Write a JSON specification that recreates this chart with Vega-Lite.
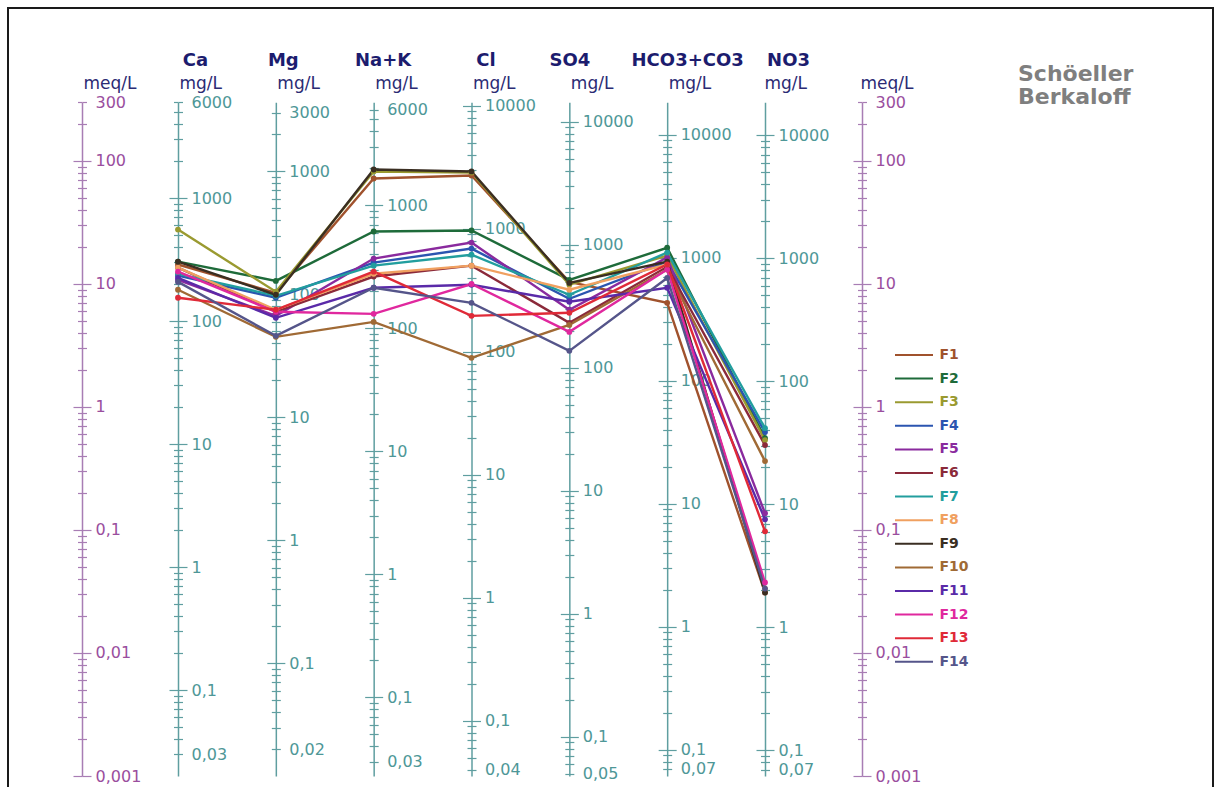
{
  "$schema": "https://vega.github.io/schema/vega-lite/v6.json",
  "width": 1205,
  "height": 780,
  "autosize": {"type": "none"},
  "padding": {"left": 8, "top": 8, "right": 8, "bottom": 0},
  "background": "white",
  "title": {"text": ["Schöeller", "Berkaloff"], "anchor": "start", "frame": "group", "orient": "top", "offset": 0, "dx": 1010, "dy": 101, "font": "DejaVu Sans", "fontSize": 22, "fontWeight": "bold", "color": "#7f7f7f", "lineHeight": 23},
  "config": {
    "view": {"stroke": "#1a1a1a", "strokeWidth": 2},
    "axis": {"grid": false, "labelOverlap": false, "labelBound": false, "labelFlush": false, "labelFont": "DejaVu Sans", "labelFontSize": 16, "labelBaseline": "middle", "tickWidth": 1.2, "domainWidth": 1.5, "titleAngle": 0, "titleBaseline": "alphabetic", "titlePadding": 0, "titleFont": "DejaVu Sans", "titleFontSize": 17, "titleFontWeight": "normal", "titleColor": "#2b2b74"}
  },
  "data": {"values": [
    {"s":"F1","ion":"Ca","meq":14.4},{"s":"F1","ion":"Mg","meq":8.48},{"s":"F1","ion":"Na+K","meq":72.1},{"s":"F1","ion":"Cl","meq":76.2},{"s":"F1","ion":"SO4","meq":10.4},{"s":"F1","ion":"HCO3+CO3","meq":7.03},{"s":"F1","ion":"NO3","meq":0.031},
    {"s":"F2","ion":"Ca","meq":15.2},{"s":"F2","ion":"Mg","meq":10.6},{"s":"F2","ion":"Na+K","meq":26.7},{"s":"F2","ion":"Cl","meq":27.2},{"s":"F2","ion":"SO4","meq":10.8},{"s":"F2","ion":"HCO3+CO3","meq":19.7},{"s":"F2","ion":"NO3","meq":0.558},
    {"s":"F3","ion":"Ca","meq":27.7},{"s":"F3","ion":"Mg","meq":8.65},{"s":"F3","ion":"Na+K","meq":82.2},{"s":"F3","ion":"Cl","meq":80.6},{"s":"F3","ion":"SO4","meq":9.86},{"s":"F3","ion":"HCO3+CO3","meq":17.0},{"s":"F3","ion":"NO3","meq":0.538},
    {"s":"F4","ion":"Ca","meq":11.7},{"s":"F4","ion":"Mg","meq":7.73},{"s":"F4","ion":"Na+K","meq":14.9},{"s":"F4","ion":"Cl","meq":19.4},{"s":"F4","ion":"SO4","meq":7.58},{"s":"F4","ion":"HCO3+CO3","meq":15.2},{"s":"F4","ion":"NO3","meq":0.625},
    {"s":"F5","ion":"Ca","meq":10.8},{"s":"F5","ion":"Mg","meq":5.51},{"s":"F5","ion":"Na+K","meq":16.1},{"s":"F5","ion":"Cl","meq":21.7},{"s":"F5","ion":"SO4","meq":6.17},{"s":"F5","ion":"HCO3+CO3","meq":16.4},{"s":"F5","ion":"NO3","meq":0.137},
    {"s":"F6","ion":"Ca","meq":13.6},{"s":"F6","ion":"Mg","meq":5.94},{"s":"F6","ion":"Na+K","meq":11.5},{"s":"F6","ion":"Cl","meq":14.1},{"s":"F6","ion":"SO4","meq":4.83},{"s":"F6","ion":"HCO3+CO3","meq":13.8},{"s":"F6","ion":"NO3","meq":0.49},
    {"s":"F7","ion":"Ca","meq":12.1},{"s":"F7","ion":"Mg","meq":8.02},{"s":"F7","ion":"Na+K","meq":14.1},{"s":"F7","ion":"Cl","meq":17.3},{"s":"F7","ion":"SO4","meq":8.17},{"s":"F7","ion":"HCO3+CO3","meq":18.0},{"s":"F7","ion":"NO3","meq":0.673},
    {"s":"F8","ion":"Ca","meq":13.6},{"s":"F8","ion":"Mg","meq":6.17},{"s":"F8","ion":"Na+K","meq":12.1},{"s":"F8","ion":"Cl","meq":14.1},{"s":"F8","ion":"SO4","meq":8.98},{"s":"F8","ion":"HCO3+CO3","meq":14.4},{"s":"F8","ion":"NO3","meq":0.0334},
    {"s":"F9","ion":"Ca","meq":15.2},{"s":"F9","ion":"Mg","meq":8.17},{"s":"F9","ion":"Na+K","meq":85.3},{"s":"F9","ion":"Cl","meq":82.2},{"s":"F9","ion":"SO4","meq":10.2},{"s":"F9","ion":"HCO3+CO3","meq":15.2},{"s":"F9","ion":"NO3","meq":0.031},
    {"s":"F10","ion":"Ca","meq":8.98},{"s":"F10","ion":"Mg","meq":3.72},{"s":"F10","ion":"Na+K","meq":4.92},{"s":"F10","ion":"Cl","meq":2.51},{"s":"F10","ion":"SO4","meq":4.65},{"s":"F10","ion":"HCO3+CO3","meq":13.1},{"s":"F10","ion":"NO3","meq":0.363},
    {"s":"F11","ion":"Ca","meq":11.2},{"s":"F11","ion":"Mg","meq":5.31},{"s":"F11","ion":"Na+K","meq":9.32},{"s":"F11","ion":"Cl","meq":9.86},{"s":"F11","ion":"SO4","meq":7.17},{"s":"F11","ion":"HCO3+CO3","meq":9.32},{"s":"F11","ion":"NO3","meq":0.122},
    {"s":"F12","ion":"Ca","meq":12.6},{"s":"F12","ion":"Mg","meq":5.94},{"s":"F12","ion":"Na+K","meq":5.72},{"s":"F12","ion":"Cl","meq":10.0},{"s":"F12","ion":"SO4","meq":4.08},{"s":"F12","ion":"HCO3+CO3","meq":13.1},{"s":"F12","ion":"NO3","meq":0.0374},
    {"s":"F13","ion":"Ca","meq":7.73},{"s":"F13","ion":"Mg","meq":6.17},{"s":"F13","ion":"Na+K","meq":12.6},{"s":"F13","ion":"Cl","meq":5.51},{"s":"F13","ion":"SO4","meq":5.83},{"s":"F13","ion":"HCO3+CO3","meq":14.4},{"s":"F13","ion":"NO3","meq":0.0975},
    {"s":"F14","ion":"Ca","meq":10.4},{"s":"F14","ion":"Mg","meq":3.79},{"s":"F14","ion":"Na+K","meq":9.32},{"s":"F14","ion":"Cl","meq":7.03},{"s":"F14","ion":"SO4","meq":2.86},{"s":"F14","ion":"HCO3+CO3","meq":11.2},{"s":"F14","ion":"NO3","meq":0.0334}
  ]},
  "resolve": {"scale": {"y": "independent"}, "axis": {"y": "independent"}},
  "layer": [
    {"data": {"values": [{}]}, "mark": {"type": "point", "opacity": 0},
     "encoding": {"y": {"datum": 1, "type": "quantitative", "scale": {"type": "log", "domain": [0.001, 300], "range": [768, 94.3]},
       "axis": {"orient": "right", "offset": -1131, "values": [0.001,0.002,0.003,0.004,0.005,0.006,0.007,0.008,0.009,0.01,0.02,0.03,0.04,0.05,0.06,0.07,0.08,0.09,0.1,0.2,0.3,0.4,0.5,0.6,0.7,0.8,0.9,1,2,3,4,5,6,7,8,9,10,20,30,40,50,60,70,80,90,100,200,300],
         "labelExpr": "(datum.value == 300 || abs(log(datum.value)/LN10 - round(log(datum.value)/LN10)) < 0.001) ? replace(datum.value + '', '.', ',') : ''",
         "tickSize": {"condition": {"test": "abs(log(datum.value)/LN10 - round(log(datum.value)/LN10)) < 0.001", "value": 9}, "value": 4.5},
         "labelPadding": {"condition": {"test": "abs(log(datum.value)/LN10 - round(log(datum.value)/LN10)) < 0.001", "value": 4}, "value": 8.5},
         "domainColor": "#a87db4", "tickColor": "#a87db4", "labelColor": "#9a4e9e",
         "title": "meq/L", "titleX": 1, "titleY": 80, "titleAlign": "left"}}}},
    {"data": {"values": [{}]}, "mark": {"type": "point", "opacity": 0},
     "encoding": {"y": {"datum": 1, "type": "quantitative", "scale": {"type": "log", "domain": [0.001, 300], "range": [768, 94.3]},
       "axis": {"orient": "left", "offset": -74, "values": [0.001,0.002,0.003,0.004,0.005,0.006,0.007,0.008,0.009,0.01,0.02,0.03,0.04,0.05,0.06,0.07,0.08,0.09,0.1,0.2,0.3,0.4,0.5,0.6,0.7,0.8,0.9,1,2,3,4,5,6,7,8,9,10,20,30,40,50,60,70,80,90,100,200,300],
         "labels": false, "domain": false, "title": null,
         "tickSize": {"condition": {"test": "abs(log(datum.value)/LN10 - round(log(datum.value)/LN10)) < 0.001", "value": 9}, "value": 4.5},
         "tickColor": "#a87db4"}}}},
    {"data": {"values": [{}]}, "mark": {"type": "point", "opacity": 0},
     "encoding": {"y": {"datum": 1, "type": "quantitative", "scale": {"type": "log", "domain": [0.001, 300], "range": [768, 94.3]},
       "axis": {"orient": "right", "offset": -351, "values": [0.001,0.002,0.003,0.004,0.005,0.006,0.007,0.008,0.009,0.01,0.02,0.03,0.04,0.05,0.06,0.07,0.08,0.09,0.1,0.2,0.3,0.4,0.5,0.6,0.7,0.8,0.9,1,2,3,4,5,6,7,8,9,10,20,30,40,50,60,70,80,90,100,200,300],
         "labelExpr": "(datum.value == 300 || abs(log(datum.value)/LN10 - round(log(datum.value)/LN10)) < 0.001) ? replace(datum.value + '', '.', ',') : ''",
         "tickSize": {"condition": {"test": "abs(log(datum.value)/LN10 - round(log(datum.value)/LN10)) < 0.001", "value": 9}, "value": 4.5},
         "labelPadding": {"condition": {"test": "abs(log(datum.value)/LN10 - round(log(datum.value)/LN10)) < 0.001", "value": 4}, "value": 8.5},
         "domainColor": "#a87db4", "tickColor": "#a87db4", "labelColor": "#9a4e9e",
         "title": "meq/L", "titleX": -2, "titleY": 80, "titleAlign": "left"}}}},
    {"data": {"values": [{}]}, "mark": {"type": "point", "opacity": 0},
     "encoding": {"y": {"datum": 1, "type": "quantitative", "scale": {"type": "log", "domain": [0.001, 300], "range": [768, 94.3]},
       "axis": {"orient": "left", "offset": -854, "values": [0.001,0.002,0.003,0.004,0.005,0.006,0.007,0.008,0.009,0.01,0.02,0.03,0.04,0.05,0.06,0.07,0.08,0.09,0.1,0.2,0.3,0.4,0.5,0.6,0.7,0.8,0.9,1,2,3,4,5,6,7,8,9,10,20,30,40,50,60,70,80,90,100,200,300],
         "labels": false, "domain": false, "title": null,
         "tickSize": {"condition": {"test": "abs(log(datum.value)/LN10 - round(log(datum.value)/LN10)) < 0.001", "value": 9}, "value": 4.5},
         "tickColor": "#a87db4"}}}},
    {"data": {"values": [{}]}, "mark": {"type": "point", "opacity": 0},
     "encoding": {"y": {"datum": 1, "type": "quantitative", "scale": {"type": "log", "domain": [0.02004, 6012], "range": [768, 94.3]},
       "axis": {"orient": "right", "offset": -1035, "values": [0.03,0.04,0.05,0.06,0.07,0.08,0.09,0.1,0.2,0.3,0.4,0.5,0.6,0.7,0.8,0.9,1,2,3,4,5,6,7,8,9,10,20,30,40,50,60,70,80,90,100,200,300,400,500,600,700,800,900,1000,2000,3000,4000,5000,6000],
         "labelExpr": "(datum.value == 6000 || datum.value == 0.03 || abs(log(datum.value)/LN10 - round(log(datum.value)/LN10)) < 0.001) ? replace(datum.value + '', '.', ',') : ''",
         "tickSize": {"condition": {"test": "abs(log(datum.value)/LN10 - round(log(datum.value)/LN10)) < 0.001", "value": 9}, "value": 4.5},
         "labelPadding": {"condition": {"test": "abs(log(datum.value)/LN10 - round(log(datum.value)/LN10)) < 0.001", "value": 4}, "value": 8.5},
         "domainColor": "#5f9ea0", "tickColor": "#5f9ea0", "labelColor": "#4e9797",
         "title": "mg/L", "titleX": 1, "titleY": 80, "titleAlign": "left"}}}},
    {"data": {"values": [{}]}, "mark": {"type": "point", "opacity": 0},
     "encoding": {"y": {"datum": 1, "type": "quantitative", "scale": {"type": "log", "domain": [0.02004, 6012], "range": [768, 94.3]},
       "axis": {"orient": "left", "offset": -170, "values": [0.03,0.04,0.05,0.06,0.07,0.08,0.09,0.1,0.2,0.3,0.4,0.5,0.6,0.7,0.8,0.9,1,2,3,4,5,6,7,8,9,10,20,30,40,50,60,70,80,90,100,200,300,400,500,600,700,800,900,1000,2000,3000,4000,5000,6000],
         "labels": false, "domain": false,
         "tickSize": {"condition": {"test": "abs(log(datum.value)/LN10 - round(log(datum.value)/LN10)) < 0.001", "value": 9}, "value": 4.5},
         "tickColor": "#5f9ea0",
         "title": "Ca", "titleX": 17, "titleY": 57, "titleAlign": "center", "titleFontWeight": "bold", "titleFontSize": 18, "titleColor": "#1c1c6e"}}}},
    {"data": {"values": [{}]}, "mark": {"type": "point", "opacity": 0},
     "encoding": {"y": {"datum": 1, "type": "quantitative", "scale": {"type": "log", "domain": [0.01215, 3645], "range": [768, 94.3]},
       "axis": {"orient": "right", "offset": -937.167, "values": [0.02,0.03,0.04,0.05,0.06,0.07,0.08,0.09,0.1,0.2,0.3,0.4,0.5,0.6,0.7,0.8,0.9,1,2,3,4,5,6,7,8,9,10,20,30,40,50,60,70,80,90,100,200,300,400,500,600,700,800,900,1000,2000,3000],
         "labelExpr": "(datum.value == 3000 || datum.value == 0.02 || abs(log(datum.value)/LN10 - round(log(datum.value)/LN10)) < 0.001) ? replace(datum.value + '', '.', ',') : ''",
         "tickSize": {"condition": {"test": "abs(log(datum.value)/LN10 - round(log(datum.value)/LN10)) < 0.001", "value": 9}, "value": 4.5},
         "labelPadding": {"condition": {"test": "abs(log(datum.value)/LN10 - round(log(datum.value)/LN10)) < 0.001", "value": 4}, "value": 8.5},
         "domainColor": "#5f9ea0", "tickColor": "#5f9ea0", "labelColor": "#4e9797",
         "title": "mg/L", "titleX": 1, "titleY": 80, "titleAlign": "left"}}}},
    {"data": {"values": [{}]}, "mark": {"type": "point", "opacity": 0},
     "encoding": {"y": {"datum": 1, "type": "quantitative", "scale": {"type": "log", "domain": [0.01215, 3645], "range": [768, 94.3]},
       "axis": {"orient": "left", "offset": -267.833, "values": [0.02,0.03,0.04,0.05,0.06,0.07,0.08,0.09,0.1,0.2,0.3,0.4,0.5,0.6,0.7,0.8,0.9,1,2,3,4,5,6,7,8,9,10,20,30,40,50,60,70,80,90,100,200,300,400,500,600,700,800,900,1000,2000,3000],
         "labels": false, "domain": false,
         "tickSize": {"condition": {"test": "abs(log(datum.value)/LN10 - round(log(datum.value)/LN10)) < 0.001", "value": 9}, "value": 4.5},
         "tickColor": "#5f9ea0",
         "title": "Mg", "titleX": 7, "titleY": 57, "titleAlign": "center", "titleFontWeight": "bold", "titleFontSize": 18, "titleColor": "#1c1c6e"}}}},
    {"data": {"values": [{}]}, "mark": {"type": "point", "opacity": 0},
     "encoding": {"y": {"datum": 1, "type": "quantitative", "scale": {"type": "log", "domain": [0.02299, 6897], "range": [768, 94.3]},
       "axis": {"orient": "right", "offset": -839.333, "values": [0.03,0.04,0.05,0.06,0.07,0.08,0.09,0.1,0.2,0.3,0.4,0.5,0.6,0.7,0.8,0.9,1,2,3,4,5,6,7,8,9,10,20,30,40,50,60,70,80,90,100,200,300,400,500,600,700,800,900,1000,2000,3000,4000,5000,6000],
         "labelExpr": "(datum.value == 6000 || datum.value == 0.03 || abs(log(datum.value)/LN10 - round(log(datum.value)/LN10)) < 0.001) ? replace(datum.value + '', '.', ',') : ''",
         "tickSize": {"condition": {"test": "abs(log(datum.value)/LN10 - round(log(datum.value)/LN10)) < 0.001", "value": 9}, "value": 4.5},
         "labelPadding": {"condition": {"test": "abs(log(datum.value)/LN10 - round(log(datum.value)/LN10)) < 0.001", "value": 4}, "value": 8.5},
         "domainColor": "#5f9ea0", "tickColor": "#5f9ea0", "labelColor": "#4e9797",
         "title": "mg/L", "titleX": 1, "titleY": 80, "titleAlign": "left"}}}},
    {"data": {"values": [{}]}, "mark": {"type": "point", "opacity": 0},
     "encoding": {"y": {"datum": 1, "type": "quantitative", "scale": {"type": "log", "domain": [0.02299, 6897], "range": [768, 94.3]},
       "axis": {"orient": "left", "offset": -365.667, "values": [0.03,0.04,0.05,0.06,0.07,0.08,0.09,0.1,0.2,0.3,0.4,0.5,0.6,0.7,0.8,0.9,1,2,3,4,5,6,7,8,9,10,20,30,40,50,60,70,80,90,100,200,300,400,500,600,700,800,900,1000,2000,3000,4000,5000,6000],
         "labels": false, "domain": false,
         "tickSize": {"condition": {"test": "abs(log(datum.value)/LN10 - round(log(datum.value)/LN10)) < 0.001", "value": 9}, "value": 4.5},
         "tickColor": "#5f9ea0",
         "title": "Na+K", "titleX": 9, "titleY": 57, "titleAlign": "center", "titleFontWeight": "bold", "titleFontSize": 18, "titleColor": "#1c1c6e"}}}},
    {"data": {"values": [{}]}, "mark": {"type": "point", "opacity": 0},
     "encoding": {"y": {"datum": 1, "type": "quantitative", "scale": {"type": "log", "domain": [0.03545, 10635], "range": [768, 94.3]},
       "axis": {"orient": "right", "offset": -741.5, "values": [0.04,0.05,0.06,0.07,0.08,0.09,0.1,0.2,0.3,0.4,0.5,0.6,0.7,0.8,0.9,1,2,3,4,5,6,7,8,9,10,20,30,40,50,60,70,80,90,100,200,300,400,500,600,700,800,900,1000,2000,3000,4000,5000,6000,7000,8000,9000,10000],
         "labelExpr": "(datum.value == 0.04 || abs(log(datum.value)/LN10 - round(log(datum.value)/LN10)) < 0.001) ? replace(datum.value + '', '.', ',') : ''",
         "tickSize": {"condition": {"test": "abs(log(datum.value)/LN10 - round(log(datum.value)/LN10)) < 0.001", "value": 9}, "value": 4.5},
         "labelPadding": {"condition": {"test": "abs(log(datum.value)/LN10 - round(log(datum.value)/LN10)) < 0.001", "value": 4}, "value": 8.5},
         "domainColor": "#5f9ea0", "tickColor": "#5f9ea0", "labelColor": "#4e9797",
         "title": "mg/L", "titleX": 1, "titleY": 80, "titleAlign": "left"}}}},
    {"data": {"values": [{}]}, "mark": {"type": "point", "opacity": 0},
     "encoding": {"y": {"datum": 1, "type": "quantitative", "scale": {"type": "log", "domain": [0.03545, 10635], "range": [768, 94.3]},
       "axis": {"orient": "left", "offset": -463.5, "values": [0.04,0.05,0.06,0.07,0.08,0.09,0.1,0.2,0.3,0.4,0.5,0.6,0.7,0.8,0.9,1,2,3,4,5,6,7,8,9,10,20,30,40,50,60,70,80,90,100,200,300,400,500,600,700,800,900,1000,2000,3000,4000,5000,6000,7000,8000,9000,10000],
         "labels": false, "domain": false,
         "tickSize": {"condition": {"test": "abs(log(datum.value)/LN10 - round(log(datum.value)/LN10)) < 0.001", "value": 9}, "value": 4.5},
         "tickColor": "#5f9ea0",
         "title": "Cl", "titleX": 14, "titleY": 57, "titleAlign": "center", "titleFontWeight": "bold", "titleFontSize": 18, "titleColor": "#1c1c6e"}}}},
    {"data": {"values": [{}]}, "mark": {"type": "point", "opacity": 0},
     "encoding": {"y": {"datum": 1, "type": "quantitative", "scale": {"type": "log", "domain": [0.04803, 14409], "range": [768, 94.3]},
       "axis": {"orient": "right", "offset": -643.667, "values": [0.05,0.06,0.07,0.08,0.09,0.1,0.2,0.3,0.4,0.5,0.6,0.7,0.8,0.9,1,2,3,4,5,6,7,8,9,10,20,30,40,50,60,70,80,90,100,200,300,400,500,600,700,800,900,1000,2000,3000,4000,5000,6000,7000,8000,9000,10000],
         "labelExpr": "(datum.value == 0.05 || abs(log(datum.value)/LN10 - round(log(datum.value)/LN10)) < 0.001) ? replace(datum.value + '', '.', ',') : ''",
         "tickSize": {"condition": {"test": "abs(log(datum.value)/LN10 - round(log(datum.value)/LN10)) < 0.001", "value": 9}, "value": 4.5},
         "labelPadding": {"condition": {"test": "abs(log(datum.value)/LN10 - round(log(datum.value)/LN10)) < 0.001", "value": 4}, "value": 8.5},
         "domainColor": "#5f9ea0", "tickColor": "#5f9ea0", "labelColor": "#4e9797",
         "title": "mg/L", "titleX": 1, "titleY": 80, "titleAlign": "left"}}}},
    {"data": {"values": [{}]}, "mark": {"type": "point", "opacity": 0},
     "encoding": {"y": {"datum": 1, "type": "quantitative", "scale": {"type": "log", "domain": [0.04803, 14409], "range": [768, 94.3]},
       "axis": {"orient": "left", "offset": -561.333, "values": [0.05,0.06,0.07,0.08,0.09,0.1,0.2,0.3,0.4,0.5,0.6,0.7,0.8,0.9,1,2,3,4,5,6,7,8,9,10,20,30,40,50,60,70,80,90,100,200,300,400,500,600,700,800,900,1000,2000,3000,4000,5000,6000,7000,8000,9000,10000],
         "labels": false, "domain": false,
         "tickSize": {"condition": {"test": "abs(log(datum.value)/LN10 - round(log(datum.value)/LN10)) < 0.001", "value": 9}, "value": 4.5},
         "tickColor": "#5f9ea0",
         "title": "SO4", "titleX": 0, "titleY": 57, "titleAlign": "center", "titleFontWeight": "bold", "titleFontSize": 18, "titleColor": "#1c1c6e"}}}},
    {"data": {"values": [{}]}, "mark": {"type": "point", "opacity": 0},
     "encoding": {"y": {"datum": 1, "type": "quantitative", "scale": {"type": "log", "domain": [0.06102, 18306], "range": [768, 94.3]},
       "axis": {"orient": "right", "offset": -545.833, "values": [0.07,0.08,0.09,0.1,0.2,0.3,0.4,0.5,0.6,0.7,0.8,0.9,1,2,3,4,5,6,7,8,9,10,20,30,40,50,60,70,80,90,100,200,300,400,500,600,700,800,900,1000,2000,3000,4000,5000,6000,7000,8000,9000,10000],
         "labelExpr": "(datum.value == 0.07 || abs(log(datum.value)/LN10 - round(log(datum.value)/LN10)) < 0.001) ? replace(datum.value + '', '.', ',') : ''",
         "tickSize": {"condition": {"test": "abs(log(datum.value)/LN10 - round(log(datum.value)/LN10)) < 0.001", "value": 9}, "value": 4.5},
         "labelPadding": {"condition": {"test": "abs(log(datum.value)/LN10 - round(log(datum.value)/LN10)) < 0.001", "value": 4}, "value": 8.5},
         "domainColor": "#5f9ea0", "tickColor": "#5f9ea0", "labelColor": "#4e9797",
         "title": "mg/L", "titleX": 1, "titleY": 80, "titleAlign": "left"}}}},
    {"data": {"values": [{}]}, "mark": {"type": "point", "opacity": 0},
     "encoding": {"y": {"datum": 1, "type": "quantitative", "scale": {"type": "log", "domain": [0.06102, 18306], "range": [768, 94.3]},
       "axis": {"orient": "left", "offset": -659.167, "values": [0.07,0.08,0.09,0.1,0.2,0.3,0.4,0.5,0.6,0.7,0.8,0.9,1,2,3,4,5,6,7,8,9,10,20,30,40,50,60,70,80,90,100,200,300,400,500,600,700,800,900,1000,2000,3000,4000,5000,6000,7000,8000,9000,10000],
         "labels": false, "domain": false,
         "tickSize": {"condition": {"test": "abs(log(datum.value)/LN10 - round(log(datum.value)/LN10)) < 0.001", "value": 9}, "value": 4.5},
         "tickColor": "#5f9ea0",
         "title": "HCO3+CO3", "titleX": 20, "titleY": 57, "titleAlign": "center", "titleFontWeight": "bold", "titleFontSize": 18, "titleColor": "#1c1c6e"}}}},
    {"data": {"values": [{}]}, "mark": {"type": "point", "opacity": 0},
     "encoding": {"y": {"datum": 1, "type": "quantitative", "scale": {"type": "log", "domain": [0.062, 18600], "range": [768, 94.3]},
       "axis": {"orient": "right", "offset": -448, "values": [0.07,0.08,0.09,0.1,0.2,0.3,0.4,0.5,0.6,0.7,0.8,0.9,1,2,3,4,5,6,7,8,9,10,20,30,40,50,60,70,80,90,100,200,300,400,500,600,700,800,900,1000,2000,3000,4000,5000,6000,7000,8000,9000,10000],
         "labelExpr": "(datum.value == 0.07 || abs(log(datum.value)/LN10 - round(log(datum.value)/LN10)) < 0.001) ? replace(datum.value + '', '.', ',') : ''",
         "tickSize": {"condition": {"test": "abs(log(datum.value)/LN10 - round(log(datum.value)/LN10)) < 0.001", "value": 9}, "value": 4.5},
         "labelPadding": {"condition": {"test": "abs(log(datum.value)/LN10 - round(log(datum.value)/LN10)) < 0.001", "value": 4}, "value": 8.5},
         "domainColor": "#5f9ea0", "tickColor": "#5f9ea0", "labelColor": "#4e9797",
         "title": "mg/L", "titleX": -1, "titleY": 80, "titleAlign": "left"}}}},
    {"data": {"values": [{}]}, "mark": {"type": "point", "opacity": 0},
     "encoding": {"y": {"datum": 1, "type": "quantitative", "scale": {"type": "log", "domain": [0.062, 18600], "range": [768, 94.3]},
       "axis": {"orient": "left", "offset": -757, "values": [0.07,0.08,0.09,0.1,0.2,0.3,0.4,0.5,0.6,0.7,0.8,0.9,1,2,3,4,5,6,7,8,9,10,20,30,40,50,60,70,80,90,100,200,300,400,500,600,700,800,900,1000,2000,3000,4000,5000,6000,7000,8000,9000,10000],
         "labels": false, "domain": false,
         "tickSize": {"condition": {"test": "abs(log(datum.value)/LN10 - round(log(datum.value)/LN10)) < 0.001", "value": 9}, "value": 4.5},
         "tickColor": "#5f9ea0",
         "title": "NO3", "titleX": 23, "titleY": 57, "titleAlign": "center", "titleFontWeight": "bold", "titleFontSize": 18, "titleColor": "#1c1c6e"}}}},
    {"mark": {"type": "line", "strokeWidth": 2.4, "point": {"filled": true, "size": 34}},
     "encoding": {
       "x": {"field": "ion", "type": "nominal", "scale": {"type": "point", "domain": ["Ca", "Mg", "Na+K", "Cl", "SO4", "HCO3+CO3", "NO3"], "range": [170, 757], "padding": 0}, "axis": null},
       "y": {"field": "meq", "type": "quantitative", "scale": {"type": "log", "domain": [0.001, 300], "range": [768, 94.3]}, "axis": null},
       "order": {"value": null},
       "color": {"field": "s", "type": "nominal",
         "scale": {"domain": ["F1","F2","F3","F4","F5","F6","F7","F8","F9","F10","F11","F12","F13","F14"],
                   "range": ["#a0522d","#1e6b3a","#9a9a30","#2b55b0","#8a2a9e","#8b2a3a","#229e9e","#f0a060","#3a2e22","#a06a35","#5a2aa8","#e0289e","#e02a38","#55558a"]},
         "legend": {"orient": "none", "legendX": 899, "legendY": 340, "title": null, "padding": 0,
           "symbolType": "M-3.1667,0H3.1667", "symbolSize": 144, "symbolStrokeWidth": 2,
           "labelFont": "DejaVu Sans", "labelFontSize": 14, "labelFontWeight": "bold", "labelOffset": 18.5, "rowPadding": 9.6,
           "labelColor": {"expr": "scale('color', datum.value)"}}}
     }}
  ]
}
